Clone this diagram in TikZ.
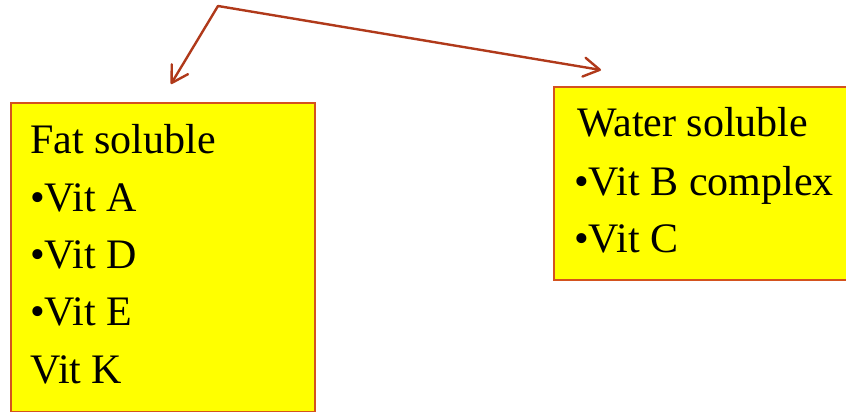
\documentclass[tikz,border=0pt]{standalone}
\usepackage{fontspec}
\setmainfont{Liberation Serif}
\usetikzlibrary{arrows.meta}
\definecolor{boxfill}{HTML}{FFFF00}
\definecolor{boxline}{HTML}{D4521E}
\definecolor{arrowcol}{HTML}{B0391A}
\begin{document}
\begin{tikzpicture}[x=1pt,y=-1pt,
  vitbox/.style={draw=boxline,fill=boxfill,line width=2pt,inner sep=0pt,anchor=north west},
  vittext/.style={anchor=base west,inner sep=0pt,font=\fontsize{42}{50}\selectfont},
  link/.style={draw=arrowcol,line width=2.4pt,line cap=round,line join=round,
    -{Straight Barb[length=16pt,width=19pt,line cap=round,line join=round]}}]
\useasboundingbox (0,0) rectangle (846,412);
\begin{scope}
\clip (0,0) rectangle (846,412);
\node[vitbox,minimum width=304pt,minimum height=309pt] (fat) at (10,102) {};
\node[vitbox,minimum width=320pt,minimum height=193pt] (water) at (553,86) {};
\end{scope}
\node[vittext] (f1) at (30,153) {Fat soluble};
\node[vittext] (f2) at (30,211) {•Vit A};
\node[vittext] (f3) at (30,268) {•Vit D};
\node[vittext] (f4) at (30,325) {•Vit E};
\node[vittext] (f5) at (30,383) {Vit K};
\node[vittext] (w1) at (577,136) {Water soluble};
\node[vittext] (w2) at (574,195) {•Vit B complex};
\node[vittext] (w3) at (574,252) {•Vit C};
\coordinate (apex) at (218,6);
\coordinate (fatend) at (171,84);
\coordinate (waterend) at (601,70);
\draw[link] (apex) -- (fatend);
\draw[link] (apex) -- (waterend);
\end{tikzpicture}
\end{document}
